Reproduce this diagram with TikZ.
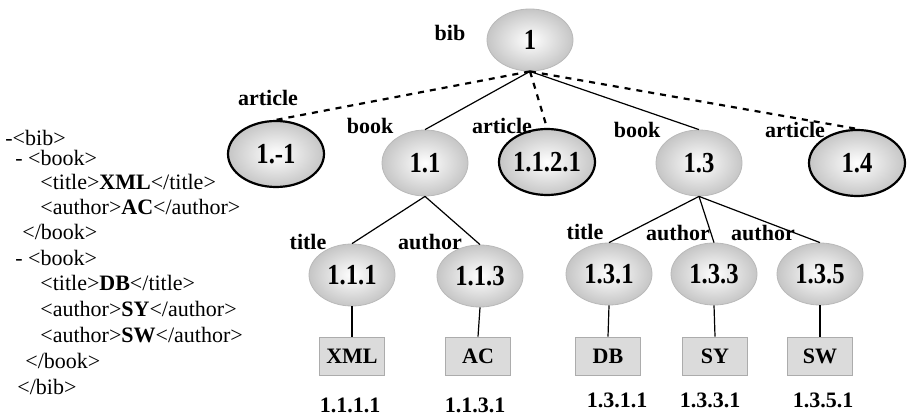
\documentclass[tikz,border=0pt]{standalone}
\usepackage{fontspec}
\setmainfont{Liberation Serif}
\newfontfamily\narrowfont{Liberation Serif}[FakeStretch=0.85]
\usetikzlibrary{shapes.geometric}

\begin{document}
\begin{tikzpicture}[x=0.5pt,y=-0.5pt,
	elem/.style={ellipse, draw=gray!55, inner color=white, outer color=gray!45, minimum width=43pt, minimum height=31pt, inner sep=0pt, font=\narrowfont\fontsize{14.5}{16}\selectfont\bfseries},
	attr/.style={elem, draw=black, line width=1.1pt, minimum width=48pt, minimum height=33pt},
	val/.style={rectangle, draw=gray!65, fill=gray!28, minimum width=32.5pt, minimum height=19pt, inner sep=0pt, font=\fontsize{11}{12}\selectfont\bfseries},
	tag/.style={font=\fontsize{11}{12}\selectfont\bfseries, inner sep=0pt},
	src/.style={anchor=west, inner sep=0pt, font=\fontsize{11}{12}\selectfont},
	link/.style={line width=0.6pt},
	ref/.style={link, dashed, line width=1.1pt}]
	\useasboundingbox (0,0) rectangle (908,416);
	% xml source
	\node[src, at={(5,138)}] (s1) {-<bib>};
	\node[src, at={(15,158)}] (s2) {- <book>};
	\node[src, at={(40,182)}] (s3) {<title>\textbf{XML}</title>};
	\node[src, at={(40,207)}] (s4) {<author>\textbf{AC}</author>};
	\node[src, at={(22,232)}] (s5) {</book>};
	\node[src, at={(15,258)}] (s6) {- <book>};
	\node[src, at={(40,283)}] (s7) {<title>\textbf{DB}</title>};
	\node[src, at={(40,309)}] (s8) {<author>\textbf{SY}</author>};
	\node[src, at={(40,335)}] (s9) {<author>\textbf{SW}</author>};
	\node[src, at={(25,361)}] (s10) {</book>};
	\node[src, at={(17,387)}] (s11) {</bib>};
	% tree
	\node[elem, at={(530,40)}] (n1) {1};
	\node[attr, at={(276,154)}] (a1) {1.-1};
	\node[elem, at={(425,163)}, minimum height=33pt] (b1) {1.1};
	\node[attr, at={(547,162)}] (a2) {1.1.2.1};
	\node[elem, at={(699,163)}, minimum height=33pt] (b2) {1.3};
	\node[attr, at={(857,163)}] (a3) {1.4};
	\node[elem, at={(352,275)}] (c1) {1.1.1};
	\node[elem, at={(480,276)}] (c2) {1.1.3};
	\node[elem, at={(609,274)}] (c3) {1.3.1};
	\node[elem, at={(714,274)}] (c4) {1.3.3};
	\node[elem, at={(820,274)}] (c5) {1.3.5};
	\node[val, at={(352,356)}] (v1) {XML};
	\node[val, at={(478,356)}] (v2) {AC};
	\node[val, at={(608,356)}] (v3) {DB};
	\node[val, at={(715,356)}] (v4) {SY};
	\node[val, at={(820,356)}] (v5) {SW};
	% labels
	\node[tag, at={(450,33)}] (t1) {bib};
	\node[tag, at={(268,98)}] (t2) {article};
	\node[tag, at={(370,126)}] (t3) {book};
	\node[tag, at={(502,126)}] (t4) {article};
	\node[tag, at={(637,130)}] (t5) {book};
	\node[tag, at={(795,130)}] (t6) {article};
	\node[tag, at={(308,242)}] (t7) {title};
	\node[tag, at={(430,242)}] (t8) {author};
	\node[tag, at={(585,232)}] (t9) {title};
	\node[tag, at={(678,233)}] (t10) {author};
	\node[tag, at={(763,233)}] (t11) {author};
	\node[tag, at={(350,405)}] (d1) {1.1.1.1};
	\node[tag, at={(475,405)}] (d2) {1.1.3.1};
	\node[tag, at={(617,400)}] (d3) {1.3.1.1};
	\node[tag, at={(710,400)}] (d4) {1.3.3.1};
	\node[tag, at={(823,400)}] (d5) {1.3.5.1};
	% edges
	\draw[ref] (n1.south) -- (a1.north);
	\draw[ref] (n1.south) -- (a2.north);
	\draw[ref] (n1.south) -- (a3.north);
	\draw[link] (n1.south) -- (b1.north);
	\draw[link] (n1.south) -- (b2.north);
	\draw[link] (b1.south) -- (c1.north);
	\draw[link] (b1.south) -- (c2.north);
	\draw[link] (b2.south) -- (c3.north);
	\draw[link] (b2.south) -- (c4.north);
	\draw[link] (b2.south) -- (c5.north);
	\draw[link] (c1.south) -- (v1.north);
	\draw[link] (c2.south) -- (v2.north);
	\draw[link] (c3.south) -- (v3.north);
	\draw[link] (c4.south) -- (v4.north);
	\draw[link] (c5.south) -- (v5.north);
\end{tikzpicture}
\end{document}
